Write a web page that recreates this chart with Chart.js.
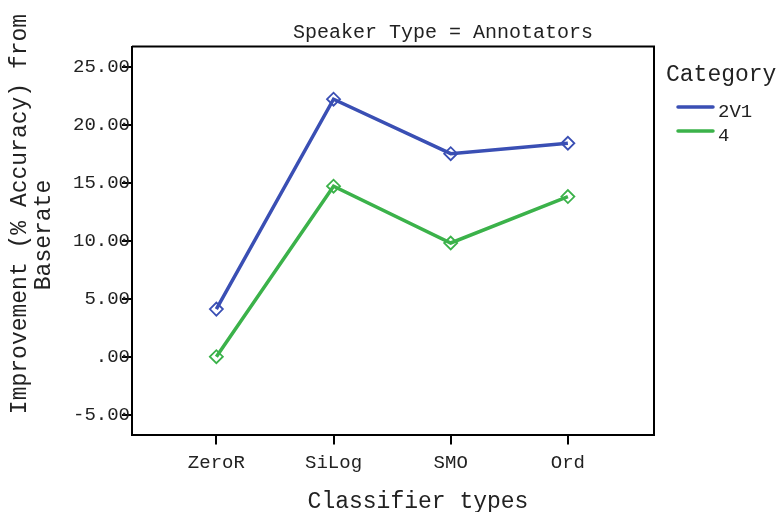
<!DOCTYPE html>
<html>
<head>
<meta charset="utf-8">
<script src="https://cdn.jsdelivr.net/npm/chart.js@4.4.1/dist/chart.umd.min.js"></script>
<style>
  html, body { margin: 0; padding: 0; background: #fff; }
  #wrap { width: 778px; height: 512px; }
</style>
</head>
<body>
<div id="wrap"><canvas id="c" width="778" height="512"></canvas></div>
<script>
const categories = ["ZeroR", "SiLog", "SMO", "Ord"];
const series2V1 = [4.1, 22.2, 17.5, 18.4];
const series4 = [0.0, 14.7, 9.8, 13.8];
const yTickValues = [-5, 0, 5, 10, 15, 20, 25];
const seriesNames = ["2V1", "4"];
const chartTitle = "Speaker Type = Annotators";
const xTitle = "Classifier types";
const yTitleLines = ["Improvement (% Accuracy) from", "Baserate"];
const legendTitle = "Category";

const BLUE = "#3a4fb4";
const GREEN = "#3bb24a";
const FONT = "'Courier New', 'Nimbus Mono PS', 'Nimbus Mono L', FreeMono, Courier, 'Liberation Mono', monospace";
const TEXT = "#222";

function fmtY(v) {
  if (v === 0) return ".00";
  return v.toFixed(2);
}

const decor = {
  id: "decor",
  afterDraw(chart) {
    const ctx = chart.ctx;
    const a = chart.chartArea;
    ctx.save();
    ctx.strokeStyle = "#000";
    ctx.lineWidth = 2;
    ctx.beginPath();
    ctx.moveTo(a.left, a.top);
    ctx.lineTo(a.right, a.top);
    ctx.lineTo(a.right, a.bottom);
    ctx.stroke();

    ctx.fillStyle = TEXT;
    ctx.font = "20px " + FONT;
    ctx.textAlign = "center";
    ctx.textBaseline = "alphabetic";
    ctx.fillText(chartTitle, 443, 38);
    ctx.font = "23px " + FONT;
    ctx.fillText(xTitle, 418, 508);
    ctx.save();
    ctx.translate(26, 214);
    ctx.rotate(-Math.PI / 2);
    ctx.fillText(yTitleLines[0], 0, 0);
    ctx.restore();
    ctx.save();
    ctx.translate(50, 235);
    ctx.rotate(-Math.PI / 2);
    ctx.fillText(yTitleLines[1], 0, 0);
    ctx.restore();

    ctx.textAlign = "left";
    ctx.font = "23px " + FONT;
    ctx.fillText(legendTitle, 666, 81);
    const colors = [BLUE, GREEN];
    const ys = [107, 131];
    ctx.font = "19px " + FONT;
    for (let i = 0; i < seriesNames.length; i++) {
      ctx.strokeStyle = colors[i];
      ctx.lineWidth = 3.5;
      ctx.lineCap = "round";
      ctx.beginPath();
      ctx.moveTo(678, ys[i]);
      ctx.lineTo(713, ys[i]);
      ctx.stroke();
      ctx.fillStyle = TEXT;
      ctx.fillText(seriesNames[i], 718, ys[i] + 9.5);
    }
    ctx.restore();
  }
};

function mk(values) {
  return values.map((v, i) => ({ x: i, y: v }));
}

function ds(label, values, color) {
  return {
    label: label,
    data: mk(values),
    borderColor: color,
    borderWidth: 3.5,
    pointStyle: "rectRot",
    pointRadius: 6.5,
    pointBorderWidth: 1.8,
    pointBorderColor: color,
    pointBackgroundColor: "rgba(0,0,0,0)",
    tension: 0
  };
}

new Chart(document.getElementById("c"), {
  type: "line",
  data: {
    datasets: [
      ds(seriesNames[0], series2V1, BLUE),
      ds(seriesNames[1], series4, GREEN)
    ]
  },
  options: {
    responsive: false,
    animation: false,
    devicePixelRatio: 1,
    layout: { padding: { left: 0, right: 124, top: 46.5, bottom: 0 } },
    plugins: {
      legend: { display: false },
      title: { display: false },
      tooltip: { enabled: false }
    },
    scales: {
      x: {
        type: "linear",
        min: -0.72,
        max: 3.735,
        afterBuildTicks(s) { s.ticks = categories.map((c, i) => ({ value: i })); },
        afterFit(s) { s.height = 77.5; },
        ticks: {
          autoSkip: false,
          maxRotation: 0,
          padding: 7,
          color: TEXT,
          font: { family: FONT, size: 19 },
          callback: (v) => categories[v]
        },
        grid: { drawOnChartArea: false, drawTicks: true, tickLength: 10, color: "#000", lineWidth: 2 },
        border: { display: true, color: "#000", width: 2 }
      },
      y: {
        type: "linear",
        min: -6.71,
        max: 26.74,
        afterBuildTicks(s) { s.ticks = yTickValues.map(v => ({ value: v })); },
        afterFit(s) { s.width = 132; },
        ticks: {
          padding: -8,
          color: TEXT,
          font: { family: FONT, size: 19 },
          callback: (v) => fmtY(v)
        },
        grid: { drawOnChartArea: false, drawTicks: true, tickLength: 10, color: "#000", lineWidth: 2 },
        border: { display: true, color: "#000", width: 2 }
      }
    }
  },
  plugins: [decor]
});
</script>
</body>
</html>
